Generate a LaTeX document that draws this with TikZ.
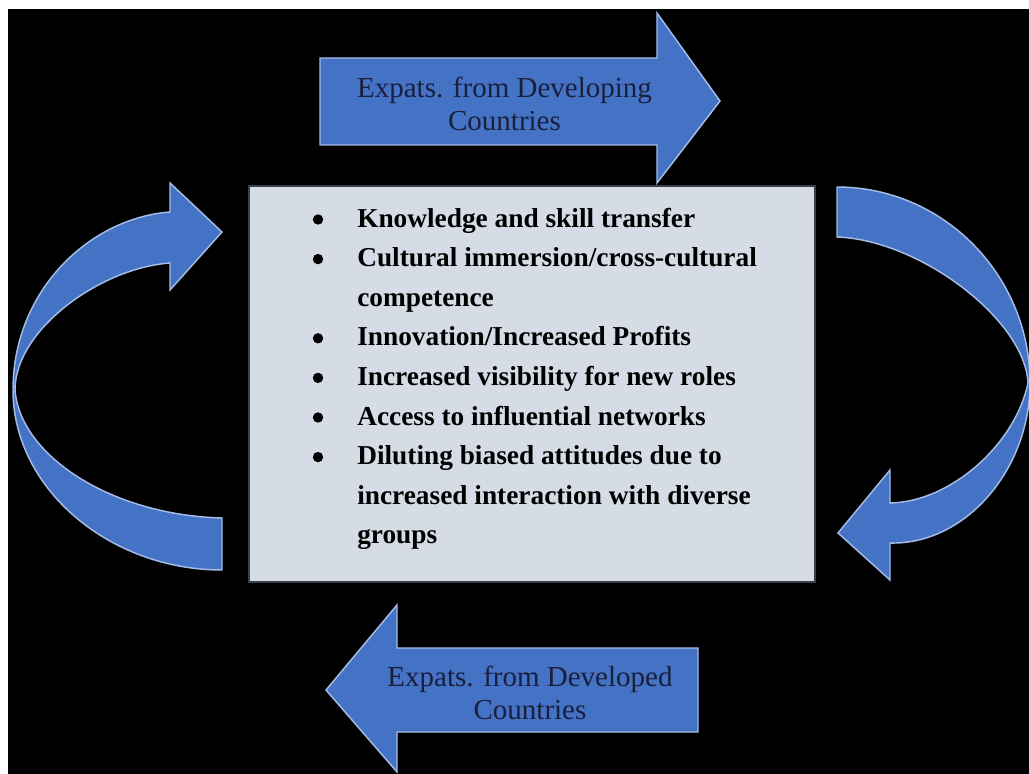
\documentclass[tikz,border=0pt]{standalone}
\usepackage{fontspec}
\setmainfont{Liberation Serif}
\definecolor{arrowblue}{HTML}{4472C4}
\definecolor{arrowedge}{HTML}{A4BCE6}
\definecolor{panel}{HTML}{D6DCE5}
\definecolor{paneledge}{HTML}{3C4048}
\definecolor{navy}{HTML}{1A1F3D}
\begin{document}
\begin{tikzpicture}[x=0.75pt,y=-0.75pt,
  blockarrow/.style={fill=arrowblue,draw=arrowedge,line width=1.1pt,line join=miter},
  arrowlabel/.style={text=navy,align=center,inner sep=0pt,
    font=\fontsize{21.75pt}{25pt}\selectfont},
  itemline/.style={font=\fontsize{20.5pt}{29.7pt}\selectfont\bfseries,anchor=base west,inner sep=0pt},
  dot/.style={circle,fill=black,inner sep=0pt,minimum size=7.8pt}]
\useasboundingbox (0,0) rectangle (1029,774);
% page frame: white margin round a black field
\fill[white] (0,0) rectangle (1029,774);
\fill[black] (8,9) rectangle (1029,774);

% central panel
\node[draw=paneledge,fill=panel,line width=1.2pt,minimum width=424.5pt,
      minimum height=297pt,inner sep=0pt] (panel) at (532,384) {};

% straight block arrows
\draw[blockarrow] (320,58) -- (657,58) -- (657,13) -- (720,101) -- (657,183)
  -- (657,145) -- (320,145) -- cycle;
\draw[blockarrow] (698,648) -- (397,648) -- (397,605) -- (326,690) -- (397,772)
  -- (397,732) -- (698,732) -- cycle;

\node[arrowlabel] (developing) at (504.5,103.6)
  {Expats. from Developing\\Countries};
\node[arrowlabel] (developed) at (530,692.9)
  {Expats. from Developed\\Countries};

% curved arrow on the left, pointing into the panel
\draw[blockarrow] (222,570) .. controls (110,570) and (13,489) .. (13,390)
  .. controls (13,290) and (90,218) .. (170,212)
  -- (170,183) -- (222,232) -- (170,290) -- (170,263)
  .. controls (100,268) and (15,330) .. (15,390)
  .. controls (20,455) and (110,515) .. (222,518) -- cycle;

% curved arrow on the right, pointing back to the panel
\draw[blockarrow] (837,187) .. controls (943,187) and (1030,275) .. (1030,383)
  .. controls (1030,470) and (965,545) .. (890,543)
  -- (890,580) -- (838,533) -- (890,470) -- (890,503)
  .. controls (950,502) and (1015,445) .. (1028,383)
  .. controls (1025,320) and (920,240) .. (837,237) -- cycle;

% bulleted list
\node[dot] (b1) at (318,219.5) {};
\node[dot] (b2) at (318,259.1) {};
\node[dot] (b3) at (318,338.3) {};
\node[dot] (b4) at (318,377.9) {};
\node[dot] (b5) at (318,417.5) {};
\node[dot] (b6) at (318,457.1) {};
\node[itemline] (t1) at (357,227.0) {Knowledge and skill transfer};
\node[itemline] (t2a) at (357,266.6) {Cultural immersion/cross-cultural};
\node[itemline] (t2b) at (357,306.2) {competence};
\node[itemline] (t3) at (357,345.8) {Innovation/Increased Profits};
\node[itemline] (t4) at (357,385.4) {Increased visibility for new roles};
\node[itemline] (t5) at (357,425.0) {Access to influential networks};
\node[itemline] (t6a) at (357,464.6) {Diluting biased attitudes due to};
\node[itemline] (t6b) at (357,504.2) {increased interaction with diverse};
\node[itemline] (t6c) at (357,543.8) {groups};
\end{tikzpicture}
\end{document}
